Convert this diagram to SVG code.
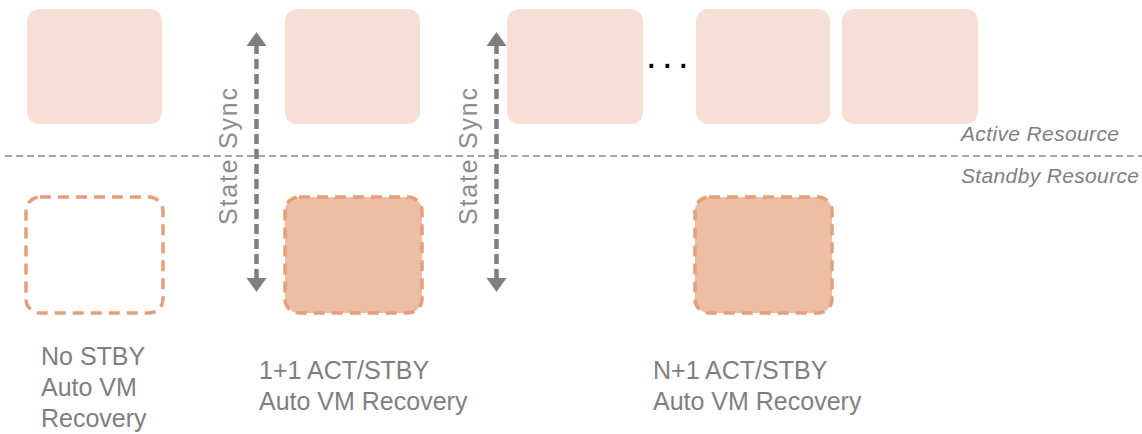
<svg xmlns="http://www.w3.org/2000/svg" width="1142" height="434" viewBox="0 0 1142 434">
<style>
.act{fill:#f6e0d5;}
.stby{stroke:#e3a07c;stroke-width:3.5;stroke-dasharray:11 7;}
.lbl{font-family:"Liberation Sans",Arial,sans-serif;font-size:25px;fill:#7f7f7f;}
.res{font-family:"Liberation Sans",Arial,sans-serif;font-size:21px;font-style:italic;fill:#7f7f7f;}
.sync{font-family:"Liberation Sans",Arial,sans-serif;font-size:25px;fill:#8c8c8c;}
.conn{stroke:#7f7f7f;stroke-width:4.5;stroke-dasharray:10 5;fill:none;}
.head{fill:#7f7f7f;}
</style>
<rect width="1142" height="434" fill="#ffffff"/>
<line x1="5" y1="156" x2="1142" y2="156" stroke="#a6a6a6" stroke-width="2" stroke-dasharray="7 4"/>
<g id="act1"><rect class="act" x="27" y="9" width="135" height="115" rx="12"/></g>
<g id="act2"><rect class="act" x="285" y="9" width="135" height="115" rx="12"/></g>
<g id="act3"><rect class="act" x="507" y="9" width="136" height="115" rx="12"/></g>
<g id="act4"><rect class="act" x="696" y="9" width="134" height="115" rx="12"/></g>
<g id="act5"><rect class="act" x="842" y="9" width="136" height="115" rx="12"/></g>
<g id="dots"><text x="646" y="68" font-family="'Liberation Sans',Arial,sans-serif" font-size="38" letter-spacing="5.4" fill="#000000">...</text></g>
<g id="stby1"><rect class="stby" x="26" y="197" width="137" height="116" rx="14" fill="none"/></g>
<g id="stby2"><rect class="stby" x="285" y="197" width="137" height="116" rx="14" fill="#ecbfa5"/></g>
<g id="stby3"><rect class="stby" x="695" y="197" width="137" height="116" rx="14" fill="#ecbfa5"/></g>
<g id="connectors">
<line class="conn" x1="256.5" y1="44" x2="256.5" y2="280"/>
<polygon class="head" points="256.5,32 266.5,46 246.5,46"/>
<polygon class="head" points="256.5,292 266.5,278 246.5,278"/>
<line class="conn" x1="496.5" y1="44" x2="496.5" y2="280"/>
<polygon class="head" points="496.5,32 506.5,46 486.5,46"/>
<polygon class="head" points="496.5,292 506.5,278 486.5,278"/>
<text class="sync" transform="translate(237,156.5) rotate(-90)" text-anchor="middle" textLength="137" lengthAdjust="spacing">State Sync</text>
<text class="sync" transform="translate(477,156.5) rotate(-90)" text-anchor="middle" textLength="137" lengthAdjust="spacing">State Sync</text>
</g>
<g id="labels">
<text class="res" x="961" y="141" textLength="158" lengthAdjust="spacing">Active Resource</text>
<text class="res" x="961" y="183" textLength="178" lengthAdjust="spacing">Standby Resource</text>
<text class="lbl" x="41" y="365">No STBY</text>
<text class="lbl" x="41" y="396">Auto VM</text>
<text class="lbl" x="41" y="427">Recovery</text>
<text class="lbl" x="259" y="379">1+1 ACT/STBY</text>
<text class="lbl" x="259" y="410">Auto VM Recovery</text>
<text class="lbl" x="653" y="379">N+1 ACT/STBY</text>
<text class="lbl" x="653" y="410">Auto VM Recovery</text>
</g>
</svg>
